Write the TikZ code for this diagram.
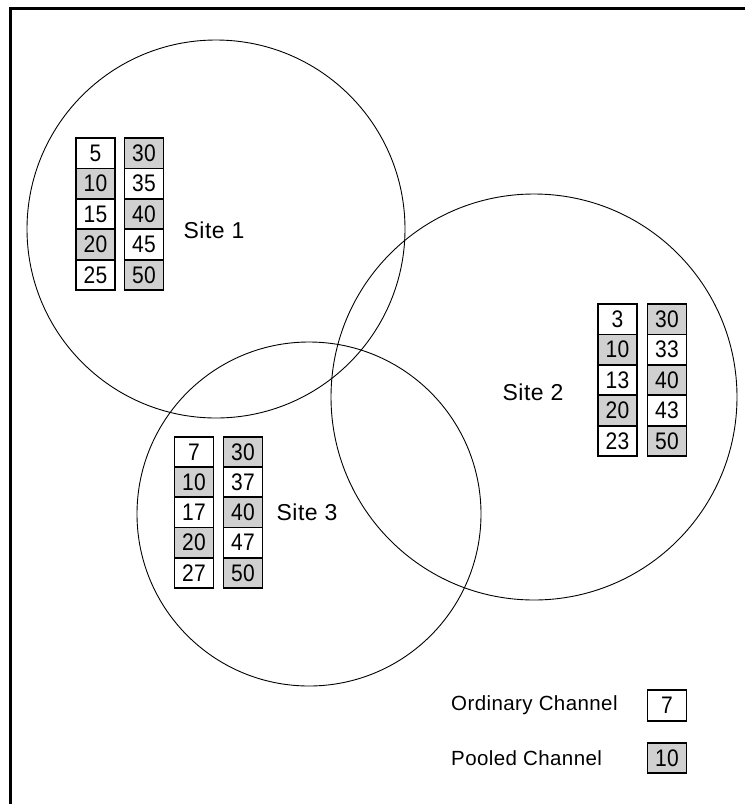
\documentclass[tikz,border=0pt]{standalone}
\usepackage{fontspec}
\setmainfont{Liberation Sans}[LetterSpace=2]
\definecolor{cellgray}{RGB}{208,208,208}
\newcommand\cellval[1]{\scalebox{1}[1.14]{#1}}
\tikzset{
  cell/.style={draw, line width=1.8pt, minimum width=39pt, minimum height=30.4pt,
    inner sep=0pt, font=\fontsize{21}{21}\selectfont},
  ordcell/.style={cell, fill=white},
  poolcell/.style={cell, fill=cellgray},
  sitecircle/.style={draw, line width=0.9pt},
  sitelabel/.style={font=\fontsize{23}{23}\selectfont, inner sep=0pt},
  legendlabel/.style={font=\fontsize{20.5}{20.5}\selectfont, inner sep=0pt, anchor=west},
  frameline/.style={line width=3pt},
}
\begin{document}
\begin{tikzpicture}[x=1pt, y=-1pt]
\useasboundingbox (0,0) rectangle (745,804);
% frame
\draw[frameline] (10.5,804) -- (10.5,8.5) -- (745,8.5);
% circles
\draw[sitecircle] (216,229) circle[radius=189pt];
\draw[sitecircle] (534,397) circle[radius=203pt];
\draw[sitecircle] (309,514) circle[radius=172pt];
% site 1
\foreach \v/\s [count=\i] in {5/ordcell,10/poolcell,15/ordcell,20/poolcell,25/ordcell}
  \node[\s] (sa\i) at (95.5,{138+30.4*(\i-0.5)}) {\cellval{\v}};
\foreach \v/\s [count=\i] in {30/poolcell,35/ordcell,40/poolcell,45/ordcell,50/poolcell}
  \node[\s] (sb\i) at (144,{138+30.4*(\i-0.5)}) {\cellval{\v}};
\node[sitelabel] (site1) at (214,230) {Site 1};
% site 2
\foreach \v/\s [count=\i] in {3/ordcell,10/poolcell,13/ordcell,20/poolcell,23/ordcell}
  \node[\s] (ta\i) at (617.5,{304+30.4*(\i-0.5)}) {\cellval{\v}};
\foreach \v/\s [count=\i] in {30/poolcell,33/ordcell,40/poolcell,43/ordcell,50/poolcell}
  \node[\s] (tb\i) at (667,{304+30.4*(\i-0.5)}) {\cellval{\v}};
\node[sitelabel] (site2) at (533,392) {Site 2};
% site 3
\foreach \v/\s [count=\i] in {7/ordcell,10/poolcell,17/ordcell,20/poolcell,27/ordcell}
  \node[\s] (ua\i) at (194,{437+30.2*(\i-0.5)}) {\cellval{\v}};
\foreach \v/\s [count=\i] in {30/poolcell,37/ordcell,40/poolcell,47/ordcell,50/poolcell}
  \node[\s] (ub\i) at (243,{437+30.2*(\i-0.5)}) {\cellval{\v}};
\node[sitelabel] (site3) at (307,512) {Site 3};
% legend
\node[legendlabel] (ordtext) at (451,705) {Ordinary Channel};
\node[ordcell] (ordbox) at (667,705.5) {\cellval{7}};
\node[legendlabel] (pooltext) at (451,758) {Pooled Channel};
\node[poolcell] (poolbox) at (667,758) {\cellval{10}};
\end{tikzpicture}
\end{document}
